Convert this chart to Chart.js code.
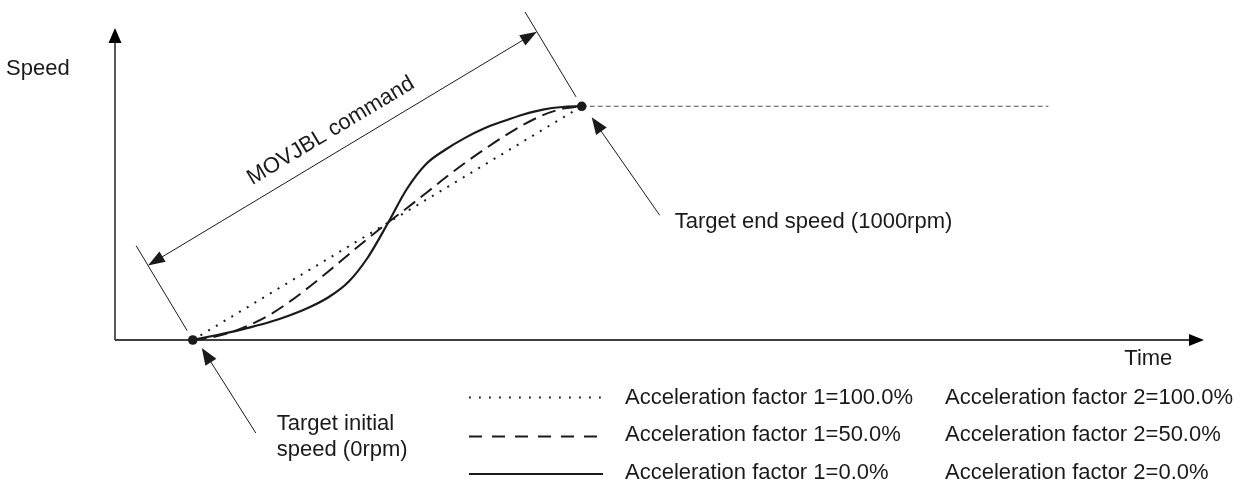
<!DOCTYPE html>
<html>
<head>
<meta charset="utf-8">
<script src="https://cdn.jsdelivr.net/npm/chart.js@4.4.1/dist/chart.umd.min.js"></script>
<style>
  html, body { margin: 0; padding: 0; background: #ffffff; }
  #wrap { width: 1240px; height: 487px; }
</style>
</head>
<body>
<div id="wrap"><canvas id="c" width="1240" height="487"></canvas></div>
<script>
// Speed profiles of one MOVJBL move (time in arbitrary units, speed in rpm)
const timeLinear  = [0, 100];
const speedLinear = [0, 1000];

const timeSteps = [0, 5, 10, 15, 20, 25, 30, 35, 40, 45, 50, 55, 60, 65, 70, 75, 80, 85, 90, 95, 100];
const speedHalf = [0, 12, 34, 67, 110, 165, 228, 295, 365, 434, 500, 564, 629, 695, 758, 816, 871, 921, 962, 989, 1000];
const speedZero = [0, 17, 35, 55, 78, 106, 140, 184, 248, 353, 495, 645, 753, 815, 865, 906, 937, 965, 986, 997, 1000];

// Speed held after the move ends
const holdTime  = [100, 220];
const holdSpeed = [1000, 1000];

// Start and end targets
const markerTime  = [0, 100];
const markerSpeed = [0, 1000];

const legendFactor1 = ['Acceleration factor 1=100.0%', 'Acceleration factor 1=50.0%', 'Acceleration factor 1=0.0%'];
const legendFactor2 = ['Acceleration factor 2=100.0%', 'Acceleration factor 2=50.0%', 'Acceleration factor 2=0.0%'];
const axisTitleX = 'Time';
const axisTitleY = 'Speed';
const commandLabel = 'MOVJBL command';
const startLabel = ['Target initial', 'speed (0rpm)'];
const endLabel = 'Target end speed (1000rpm)';

const toPoints = (xs, ys) => xs.map((t, i) => ({ x: t, y: ys[i] }));

const INK = '#1a1a1a';
const FONT = '22px "Liberation Sans", Arial, sans-serif';

// Key sample styles (the dash spacing in the key is a little wider than on the curves)
const legendStyles = [
  { dash: [1.8, 8.2], width: 1.8 },
  { dash: [13, 10], width: 2 },
  { dash: [], width: 2 }
];

function arrowHead(ctx, fromX, fromY, tipX, tipY, len, half) {
  const dx = tipX - fromX, dy = tipY - fromY;
  const d = Math.hypot(dx, dy);
  const ux = dx / d, uy = dy / d;
  const bx = tipX - ux * len, by = tipY - uy * len;
  ctx.beginPath();
  ctx.moveTo(tipX, tipY);
  ctx.lineTo(bx - uy * half, by + ux * half);
  ctx.lineTo(bx + uy * half, by - ux * half);
  ctx.closePath();
  ctx.fill();
}

function line(ctx, x1, y1, x2, y2) {
  ctx.beginPath();
  ctx.moveTo(x1, y1);
  ctx.lineTo(x2, y2);
  ctx.stroke();
}

const diagramPlugin = {
  id: 'diagram',
  beforeDatasetsDraw(chart) {
    const { ctx, chartArea, scales: { x, y } } = chart;
    const ox = x.getPixelForValue(x.min);
    const oy = y.getPixelForValue(0);
    ctx.save();
    ctx.strokeStyle = '#000';
    ctx.fillStyle = '#000';
    ctx.lineWidth = 1.3;
    // time axis
    line(ctx, ox, oy, chartArea.right - 12, oy);
    arrowHead(ctx, ox, oy, chartArea.right, oy, 15, 6);
    // speed axis
    line(ctx, ox, oy, ox, chartArea.top + 12);
    arrowHead(ctx, ox, oy, ox, chartArea.top, 15, 6.5);
    ctx.restore();
  },
  afterDraw(chart) {
    const { ctx, scales: { x, y } } = chart;
    const sx = x.getPixelForValue(markerTime[0]), sy = y.getPixelForValue(markerSpeed[0]);
    const ex = x.getPixelForValue(markerTime[1]), ey = y.getPixelForValue(markerSpeed[1]);
    const oy = y.getPixelForValue(0);
    const ox = x.getPixelForValue(x.min);

    ctx.save();
    ctx.fillStyle = INK;
    ctx.strokeStyle = INK;
    ctx.font = FONT;
    ctx.textBaseline = 'alphabetic';

    // axis titles
    ctx.textAlign = 'left';
    ctx.fillText(axisTitleY, ox - 109, y.getPixelForValue(1135));
    ctx.fillText(axisTitleX, x.getPixelForValue(239.5), oy + 25);

    // dimension line for the command duration
    const len = Math.hypot(ex - sx, ey - sy);
    const ux = (ex - sx) / len, uy = (ey - sy) / len;
    const nx = uy, ny = -ux; // normal pointing up-left
    ctx.lineWidth = 1;
    line(ctx, sx + nx * 11, sy + ny * 11, sx + nx * 110, sy + ny * 110);
    line(ctx, ex + nx * 11, ey + ny * 11, ex + nx * 110, ey + ny * 110);
    const d = 87;
    const ax = sx + nx * d, ay = sy + ny * d, bx = ex + nx * d, by = ey + ny * d;
    line(ctx, ax + ux * 10, ay + uy * 10, bx - ux * 10, by - uy * 10);
    arrowHead(ctx, bx, by, ax, ay, 17, 6);
    arrowHead(ctx, ax, ay, bx, by, 17, 6);

    ctx.save();
    const tx = sx + nx * 102 + ux * 226, ty = sy + ny * 102 + uy * 226;
    ctx.translate(tx, ty);
    ctx.rotate(Math.atan2(uy, ux));
    ctx.textAlign = 'center';
    ctx.fillText(commandLabel, 0, 0);
    ctx.restore();

    // end target call-out
    line(ctx, ex + 78, ey + 109, ex + 16, ey + 20);
    arrowHead(ctx, ex + 78, ey + 109, ex + 10, ey + 11, 17, 6.5);
    ctx.textAlign = 'left';
    ctx.fillText(endLabel, ex + 93, ey + 122);

    // start target call-out
    line(ctx, sx + 63, sy + 93, sx + 13, sy + 14);
    arrowHead(ctx, sx + 63, sy + 93, sx + 9, sy + 8, 17, 6.5);
    ctx.fillText(startLabel[0], sx + 84, sy + 90);
    ctx.fillText(startLabel[1], sx + 84, sy + 116);

    // key
    const profiles = [chart.data.datasets[2], chart.data.datasets[1], chart.data.datasets[0]];
    const rowLine = [397.5, 436.5, 474];
    const rowText = [403.5, 441, 478.5];
    profiles.forEach((ds, i) => {
      ctx.save();
      ctx.strokeStyle = ds.borderColor;
      ctx.lineWidth = legendStyles[i].width;
      ctx.setLineDash(legendStyles[i].dash);
      line(ctx, 469, rowLine[i], 603, rowLine[i]);
      ctx.restore();
      ctx.fillText(legendFactor1[i], 625, rowText[i]);
      ctx.fillText(legendFactor2[i], 945, rowText[i]);
    });
    ctx.restore();
  }
};

new Chart(document.getElementById('c'), {
  type: 'line',
  data: {
    datasets: [
      {
        label: legendFactor1[2],
        data: toPoints(timeSteps, speedZero),
        borderColor: INK, borderWidth: 2.2,
        cubicInterpolationMode: 'monotone', pointRadius: 0, order: 3, clip: false
      },
      {
        label: legendFactor1[1],
        data: toPoints(timeSteps, speedHalf),
        borderColor: INK, borderWidth: 2, borderDash: [14, 7],
        cubicInterpolationMode: 'monotone', pointRadius: 0, order: 4, clip: false
      },
      {
        label: legendFactor1[0],
        data: toPoints(timeLinear, speedLinear),
        borderColor: INK, borderWidth: 2, borderDash: [2, 7],
        pointRadius: 0, order: 5, clip: false
      },
      {
        label: 'hold',
        data: toPoints(holdTime, holdSpeed),
        borderColor: '#555555', borderWidth: 1, borderDash: [5, 3],
        pointRadius: 0, order: 6, clip: false
      },
      {
        label: 'targets',
        data: toPoints(markerTime, markerSpeed),
        showLine: false,
        pointRadius: 4.8, pointBorderWidth: 0,
        pointBackgroundColor: INK, pointBorderColor: INK, order: 1, clip: false
      }
    ]
  },
  options: {
    responsive: false,
    animation: false,
    devicePixelRatio: 1,
    layout: { padding: { left: 115, top: 28, right: 36, bottom: 147 } },
    scales: {
      x: { type: 'linear', min: -20, max: 260, display: false },
      y: { type: 'linear', min: 0, max: 1335, display: false }
    },
    plugins: {
      legend: { display: false },
      tooltip: { enabled: false }
    },
    elements: { line: { fill: false } }
  },
  plugins: [diagramPlugin]
});
</script>
</body>
</html>
